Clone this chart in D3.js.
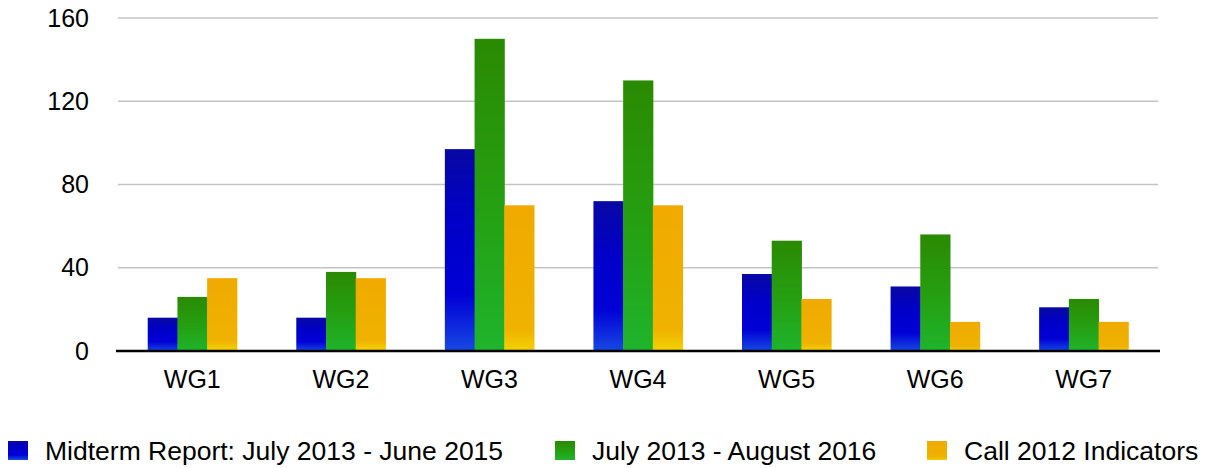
<!DOCTYPE html>
<html>
<head>
<meta charset="utf-8">
<script src="https://cdn.jsdelivr.net/npm/d3@7"></script>
<style>
  body { margin: 0; background: #fff; }
  text { font-family: "Liberation Sans", Arial, sans-serif; fill: #000; }
</style>
</head>
<body>
<div id="chart"></div>
<script>
// chart data
const categories = ["WG1", "WG2", "WG3", "WG4", "WG5", "WG6", "WG7"];
const seriesNames = ["Midterm Report: July 2013 - June 2015", "July 2013 - August 2016", "Call 2012 Indicators"];
const midterm = [16, 16, 97, 72, 37, 31, 21];
const upTo2016 = [26, 38, 150, 130, 53, 56, 25];
const call2012 = [35, 35, 70, 70, 25, 14, 14];
const yTicks = [0, 40, 80, 120, 160];

const seriesValues = [midterm, upTo2016, call2012];
const gradients = [
    [["0%", "#0808a4"], ["35%", "#0000c8"], ["72%", "#0000d6"], ["100%", "#1848e2"]],
    [["0%", "#2a8a02"], ["55%", "#25a012"], ["100%", "#1fb42c"]],
    [["0%", "#f0aa00"], ["85%", "#f0b200"], ["100%", "#f2d200"]]
];

const W = 1211, H = 468;
const margin = {top: 18, right: 53, bottom: 117, left: 118};
const width = W - margin.left - margin.right;
const height = H - margin.top - margin.bottom;

const svg = d3.select("#chart").append("svg")
    .attr("width", W)
    .attr("height", H);

const defs = svg.append("defs");
gradients.forEach((stops, i) => {
    const g = defs.append("linearGradient")
        .attr("id", "grad" + i)
        .attr("x1", 0).attr("y1", 0).attr("x2", 0).attr("y2", 1);
    stops.forEach(s => g.append("stop").attr("offset", s[0]).attr("stop-color", s[1]));
});

const g = svg.append("g")
    .attr("transform", "translate(" + margin.left + "," + margin.top + ")");

const x0 = d3.scaleBand()
    .domain(categories)
    .range([0, width])
    .paddingInner(0.4)
    .paddingOuter(0.2);

const x1 = d3.scaleBand()
    .domain([0, 1, 2])
    .range([0, x0.bandwidth()]);

const y = d3.scaleLinear()
    .domain([0, 160])
    .range([height, 0]);

// gridlines
g.append("g")
    .selectAll("line")
    .data(yTicks.filter(d => d > 0))
    .enter().append("line")
    .attr("x1", 0).attr("x2", width)
    .attr("y1", d => y(d)).attr("y2", d => y(d))
    .attr("stroke", "#c4c4c4")
    .attr("stroke-width", 1.5);

// y axis labels
const yAxis = d3.axisLeft(y).tickValues(yTicks).tickSize(0).tickPadding(29);
g.append("g")
    .call(yAxis)
    .call(a => a.select(".domain").remove())
    .selectAll("text")
    .style("font-size", "25px");

// bars
const groups = g.selectAll(".group")
    .data(categories)
    .enter().append("g")
    .attr("class", "group")
    .attr("transform", d => "translate(" + x0(d) + ",0)");

groups.selectAll("rect")
    .data((d, i) => seriesValues.map((s, j) => ({series: j, value: s[i]})))
    .enter().append("rect")
    .attr("x", d => x1(d.series))
    .attr("width", x1.bandwidth() + 0.5)
    .attr("y", d => y(d.value))
    .attr("height", d => height - y(d.value))
    .attr("fill", d => "url(#grad" + d.series + ")");

// x axis
const xAxis = d3.axisBottom(x0).tickSize(0).tickPadding(19);
g.append("g")
    .attr("transform", "translate(0," + height + ")")
    .call(xAxis)
    .call(a => a.select(".domain").remove())
    .selectAll("text")
    .style("font-size", "25px");

g.append("line")
    .attr("x1", -2).attr("x2", width + 2)
    .attr("y1", height).attr("y2", height)
    .attr("stroke", "#000")
    .attr("stroke-width", 2.5);

// legend
const legendX = [8, 555, 927];
const legend = svg.append("g")
    .selectAll("g")
    .data(seriesNames)
    .enter().append("g")
    .attr("transform", (d, i) => "translate(" + legendX[i] + ",441)");

legend.append("rect")
    .attr("width", 20).attr("height", 19)
    .attr("fill", (d, i) => "url(#grad" + i + ")");

legend.append("text")
    .attr("x", 37)
    .attr("y", 19)
    .style("font-size", "26.5px")
    .text(d => d);
</script>
</body>
</html>
